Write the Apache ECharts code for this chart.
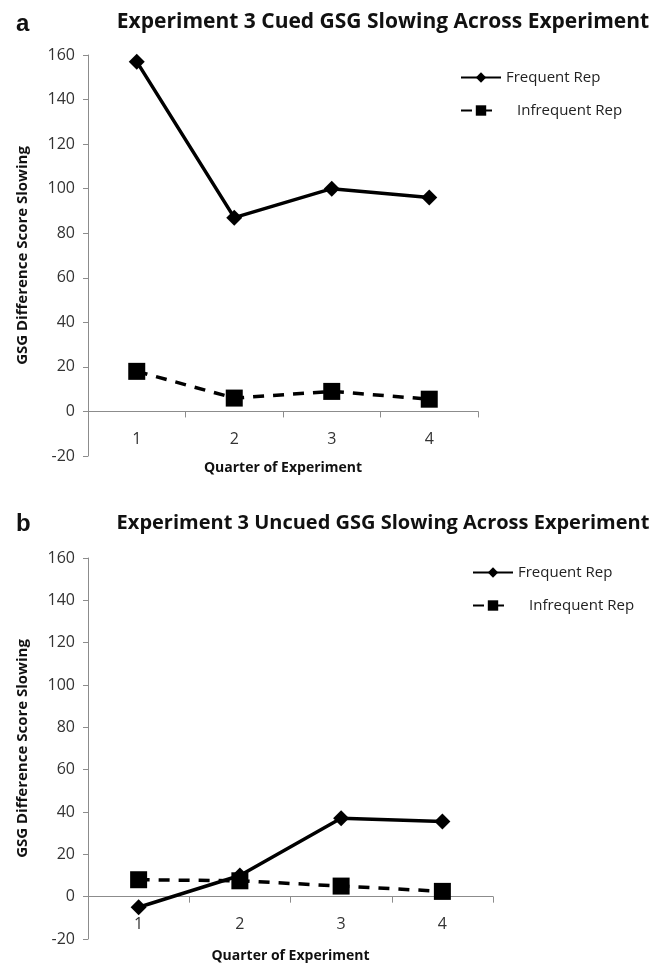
<!DOCTYPE html>
<html>
<head>
<meta charset="utf-8">
<script src="https://cdn.jsdelivr.net/npm/echarts@6/dist/echarts.min.js"></script>
<style>
html,body{margin:0;padding:0;background:#fff;}
#chart{width:660px;height:968px;}
</style>
</head>
<body>
<div id="chart"></div>
<script>
const categories = ['1', '2', '3', '4'];
const cuedFrequent = [157, 87, 100, 96];
const cuedInfrequent = [18, 6, 9, 5.5];
const uncuedFrequent = [-5, 10, 37, 35.5];
const uncuedInfrequent = [8, 7.5, 5, 2.5];
const yMin = -20, yMax = 160, yStep = 20;
const titleA = 'Experiment 3 Cued GSG Slowing Across Experiment';
const titleB = 'Experiment 3 Uncued GSG Slowing Across Experiment';
const xName = 'Quarter of Experiment';
const yName = 'GSG Difference Score Slowing';
const nameFreq = 'Frequent Rep';
const nameInfreq = 'Infrequent Rep';

const FONT = '"Open Sans", "Liberation Sans", sans-serif';
const AXIS_GRAY = '#8c8c8c';
const chart = echarts.init(document.getElementById('chart'), null, { renderer: 'canvas' });

// Each panel: a full grid (series + y axis) and an upper grid whose bottom is the zero line (visible x axis).
function panelGrids(top, left, width, height) {
  const upperH = height * (yMax - 0) / (yMax - yMin);
  return [
    { left, top, width, height, outerBoundsMode: 'none' },
    { left, top, width, height: upperH, outerBoundsMode: 'none' }
  ];
}
function hiddenX(gridIndex) {
  return { type: 'category', gridIndex, data: categories, boundaryGap: true, show: false };
}
function visibleX(gridIndex, gap) {
  return {
    type: 'category', gridIndex, data: categories, boundaryGap: true,
    axisLine: { show: true, onZero: false, lineStyle: { color: AXIS_GRAY, width: 1 } },
    axisTick: { show: true, alignWithLabel: false, length: 6, lineStyle: { color: AXIS_GRAY } },
    axisLabel: { color: '#333', fontSize: 16, fontFamily: FONT, margin: 20 },
    name: xName, nameLocation: 'middle', nameGap: gap, nameMoveOverlap: false,
    nameTextStyle: { color: '#111', fontSize: 14, fontWeight: 'bold', fontFamily: FONT },
    splitLine: { show: false }
  };
}
function visibleY(gridIndex) {
  return {
    type: 'value', gridIndex, min: yMin, max: yMax, interval: yStep,
    axisLine: { show: true, lineStyle: { color: AXIS_GRAY, width: 1 } },
    axisTick: { show: true, length: 5, lineStyle: { color: AXIS_GRAY } },
    axisLabel: { color: '#333', fontSize: 16, fontFamily: FONT, margin: 13 },
    splitLine: { show: false },
    name: yName, nameLocation: 'middle', nameGap: 58, nameRotate: 90,
    nameTextStyle: { color: '#111', fontSize: 15, fontWeight: 'bold', fontFamily: FONT }
  };
}
function hiddenY(gridIndex) {
  return { type: 'value', gridIndex, min: 0, max: yMax, show: false, splitLine: { show: false } };
}
function seriesFreq(name, data, idx) {
  return {
    type: 'line', name, data, xAxisIndex: idx, yAxisIndex: idx,
    symbol: 'diamond', symbolSize: 16, showSymbol: true,
    lineStyle: { color: '#000', width: 3.5, type: 'solid' },
    itemStyle: { color: '#000' }, z: 3
  };
}
function seriesInfreq(name, data, idx) {
  return {
    type: 'line', name, data, xAxisIndex: idx, yAxisIndex: idx,
    symbol: 'rect', symbolSize: 17, showSymbol: true,
    lineStyle: { color: '#000', width: 3.5, type: [11, 9] },
    itemStyle: { color: '#000' }, z: 2
  };
}
function legend(name, left, top, textPad) {
  return {
    data: [name], left, top, orient: 'vertical', itemWidth: 40, itemHeight: 13, itemGap: 4,
    textStyle: { color: '#222', fontSize: 15, fontFamily: FONT, padding: [0, 0, 0, textPad] },
    padding: 0, selectedMode: false
  };
}

const gridsA = panelGrids(55, 88, 390, 401);
const gridsB = panelGrids(558, 88, 405, 381);

chart.setOption({
  backgroundColor: '#fff',
  animation: false,
  title: [
    { text: 'a', left: 11, top: 7, textStyle: { fontSize: 24, fontWeight: 'bold', color: '#111', fontFamily: '"Liberation Sans", sans-serif' } },
    { text: titleA, left: 378, textAlign: 'center', top: 7, textStyle: { fontSize: 21, fontWeight: 'bold', color: '#111', fontFamily: FONT } },
    { text: 'b', left: 11, top: 507, textStyle: { fontSize: 24, fontWeight: 'bold', color: '#111', fontFamily: '"Liberation Sans", sans-serif' } },
    { text: titleB, left: 378, textAlign: 'center', top: 508, textStyle: { fontSize: 20, fontWeight: 'bold', color: '#111', fontFamily: FONT } }
  ],
  legend: [
    legend(nameFreq, 460, 70, 0),
    legend(nameInfreq, 460, 103, 11),
    legend(nameFreq, 472, 565, 0),
    legend(nameInfreq, 472, 598, 11)
  ],
  grid: [gridsA[0], gridsA[1], gridsB[0], gridsB[1]],
  xAxis: [hiddenX(0), visibleX(1, 50), hiddenX(2), visibleX(3, 52)],
  yAxis: [visibleY(0), hiddenY(1), visibleY(2), hiddenY(3)],
  series: [
    seriesFreq(nameFreq, cuedFrequent, 0),
    seriesInfreq(nameInfreq, cuedInfrequent, 0),
    seriesFreq(nameFreq, uncuedFrequent, 2),
    seriesInfreq(nameInfreq, uncuedInfrequent, 2)
  ]
});
</script>
</body>
</html>
